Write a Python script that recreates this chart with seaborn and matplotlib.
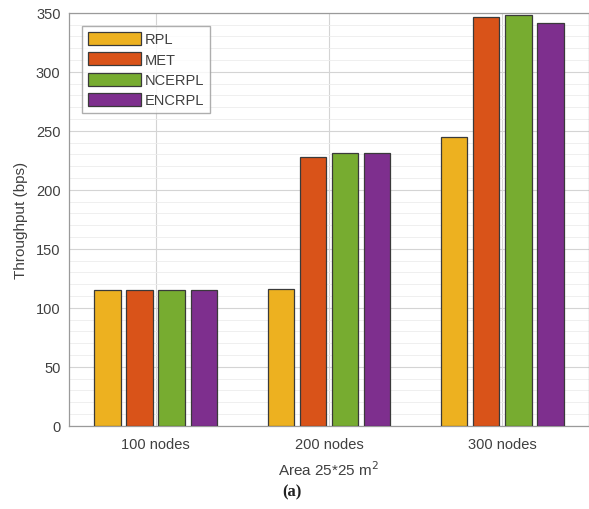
import matplotlib
matplotlib.use("Agg")
import matplotlib.pyplot as plt
import seaborn as sns
import pandas as pd
from matplotlib.ticker import MultipleLocator

categories = ["100 nodes", "200 nodes", "300 nodes"]
protocols = ["RPL", "MET", "NCERPL", "ENCRPL"]
rpl = [115, 116, 245]
met = [115, 228, 346]
ncerpl = [115, 231, 348]
encrpl = [115, 231, 341]
colors = ["#EDB120", "#D95319", "#77AC30", "#7E2F8E"]

rows = []
for name, vals in zip(protocols, [rpl, met, ncerpl, encrpl]):
    for c, v in zip(categories, vals):
        rows.append({"Nodes": c, "Protocol": name, "Throughput": v})
df = pd.DataFrame(rows)

sns.set_theme(style="white")
plt.rcParams["font.family"] = ["Liberation Sans", "DejaVu Sans"]

fig = plt.figure(figsize=(5.89, 5.10), dpi=100)
ax = fig.add_axes([0.117, 0.163, 0.883, 0.81])

sns.barplot(data=df, x="Nodes", y="Throughput", hue="Protocol",
            order=categories, hue_order=protocols, palette=colors,
            saturation=1, width=0.74, gap=0.18, edgecolor="#3a3a3a",
            linewidth=0.9, errorbar=None, ax=ax, zorder=3)

ax.set_ylim(0, 350)
ax.set_xlim(-0.5, 2.5)
ax.yaxis.set_major_locator(MultipleLocator(50))
ax.yaxis.set_minor_locator(MultipleLocator(10))
ax.grid(True, which="major", axis="both", color="#d4d4d4", linewidth=0.8, zorder=0)
ax.grid(True, which="minor", axis="y", color="#ececec", linewidth=0.6, zorder=0)
ax.set_axisbelow(True)

for s in ax.spines.values():
    s.set_color("#9a9a9a")
    s.set_linewidth(0.9)

ax.tick_params(axis="both", which="both", direction="in", colors="#9a9a9a",
               labelcolor="#404040", labelsize=10.5, length=4)
ax.tick_params(axis="y", which="minor", length=0)
ax.tick_params(axis="x", pad=8)
ax.tick_params(axis="y", pad=6)

ax.set_xlabel("Area 25*25 m$^2$", fontsize=11, color="#404040", labelpad=6)
ax.set_ylabel("Throughput (bps)", fontsize=11, color="#404040", labelpad=6)

leg = ax.legend(loc="upper left", bbox_to_anchor=(0.02, 0.975), frameon=True,
                fancybox=False, edgecolor="#9a9a9a", fontsize=10.5,
                handlelength=3.6, handleheight=1.0, handletextpad=0.3,
                labelspacing=0.4, borderpad=0.4, borderaxespad=0.2)
leg.get_frame().set_linewidth(1.0)
for t in leg.get_texts():
    t.set_color("#404040")

fig.text(0.495, 0.035, "(a)", ha="center", va="center", fontsize=12,
         fontweight="bold", family=["Liberation Serif", "DejaVu Serif"], color="#222222")

fig.savefig("out.png", dpi=100)
